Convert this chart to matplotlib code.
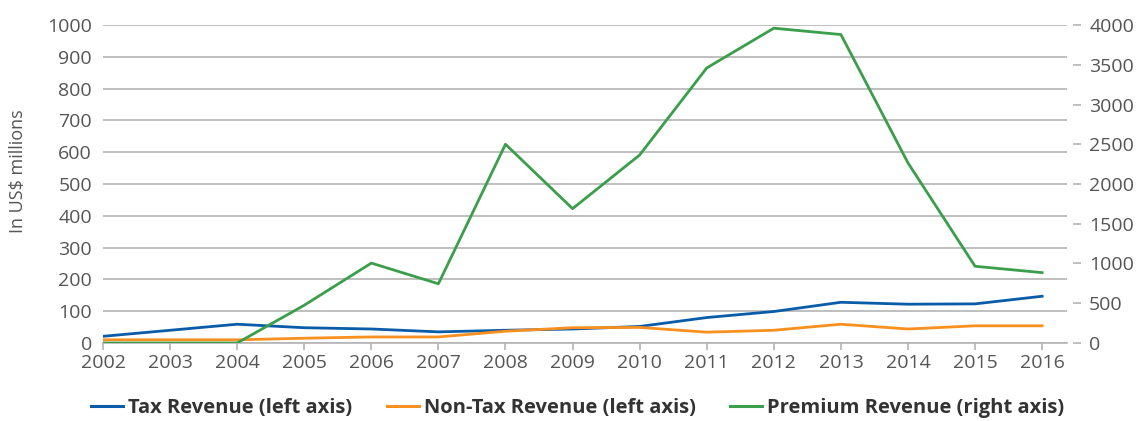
import matplotlib
matplotlib.use("Agg")
import matplotlib.pyplot as plt
from matplotlib.lines import Line2D

years = list(range(2002, 2017))
tax_revenue = [21, 40, 59, 48, 44, 35, 40, 44, 52, 80, 99, 128, 122, 123, 147]
non_tax_revenue = [10, 10, 10, 15, 19, 19, 37, 48, 49, 34, 40, 59, 44, 54, 54]
premium_revenue = [0, 0, 0, 475, 1005, 745, 2500, 1690, 2365, 3460, 3960, 3880, 2265, 965, 885]

left_ticks = list(range(0, 1001, 100))
right_ticks = list(range(0, 4001, 500))

c_tax = "#0a5ca8"
c_non = "#f7901e"
c_prem = "#3a9e4a"
txt = "#555555"
grid_c = "#b4b4b4"

plt.rcParams['font.family'] = ['Open Sans', 'DejaVu Sans']

fig = plt.figure(figsize=(11.42, 4.21), dpi=100)
ax = fig.add_axes([0.0902, 0.1853, 0.9343 - 0.0902, 0.9406 - 0.1853])
ax2 = ax.twinx()

ax.set_xlim(2002, 2016.37)
ax.set_ylim(0, 1000)
ax2.set_ylim(0, 4000)

ax.set_yticks(left_ticks)
ax.set_yticklabels([str(t) for t in left_ticks])
ax2.set_yticks(right_ticks)
ax2.set_yticklabels([str(t) for t in right_ticks])
ax.set_xticks(years)
ax.set_xticklabels([str(y) for y in years])

ax.grid(axis='y', color=grid_c, lw=1.2)
ax.set_axisbelow(True)
for a in (ax, ax2):
    for s in ('top', 'left', 'right', 'bottom'):
        a.spines[s].set_visible(False)
ax.spines['bottom'].set_visible(True)
ax.spines['bottom'].set_color(grid_c)
ax.spines['bottom'].set_linewidth(1.2)

ax.tick_params(axis='y', length=0, pad=8, labelsize=14, labelcolor=txt)
ax.tick_params(axis='x', length=5, color=grid_c, width=1.2, pad=3, labelsize=14, labelcolor=txt)
ax2.spines['right'].set_position(('outward', 4))
ax2.tick_params(axis='y', length=6, color=grid_c, width=1.2, pad=6, labelsize=14, labelcolor=txt)

lw = 2.0
ax.plot(years, tax_revenue, color=c_tax, lw=lw, zorder=3)
ax.plot(years, non_tax_revenue, color=c_non, lw=lw, zorder=3)
ax2.plot(years, premium_revenue, color=c_prem, lw=lw, zorder=3)

fig.text(0.016, 0.594, "In US$ millions", rotation=90, ha='center', va='center',
         fontsize=13, color=txt)

handles = [Line2D([], [], color=c_tax, lw=2.2),
           Line2D([], [], color=c_non, lw=2.2),
           Line2D([], [], color=c_prem, lw=2.2)]
labels = ["Tax Revenue (left axis)", "Non-Tax Revenue (left axis)", "Premium Revenue (right axis)"]
fig.legend(handles, labels, loc='center', bbox_to_anchor=(0.506, 0.03), ncol=3, frameon=False,
           prop={'weight': 'bold', 'size': 14.5}, labelcolor='#333333',
           handlelength=1.6, handletextpad=0.25, columnspacing=1.7)

fig.savefig("out.png", dpi=100)
